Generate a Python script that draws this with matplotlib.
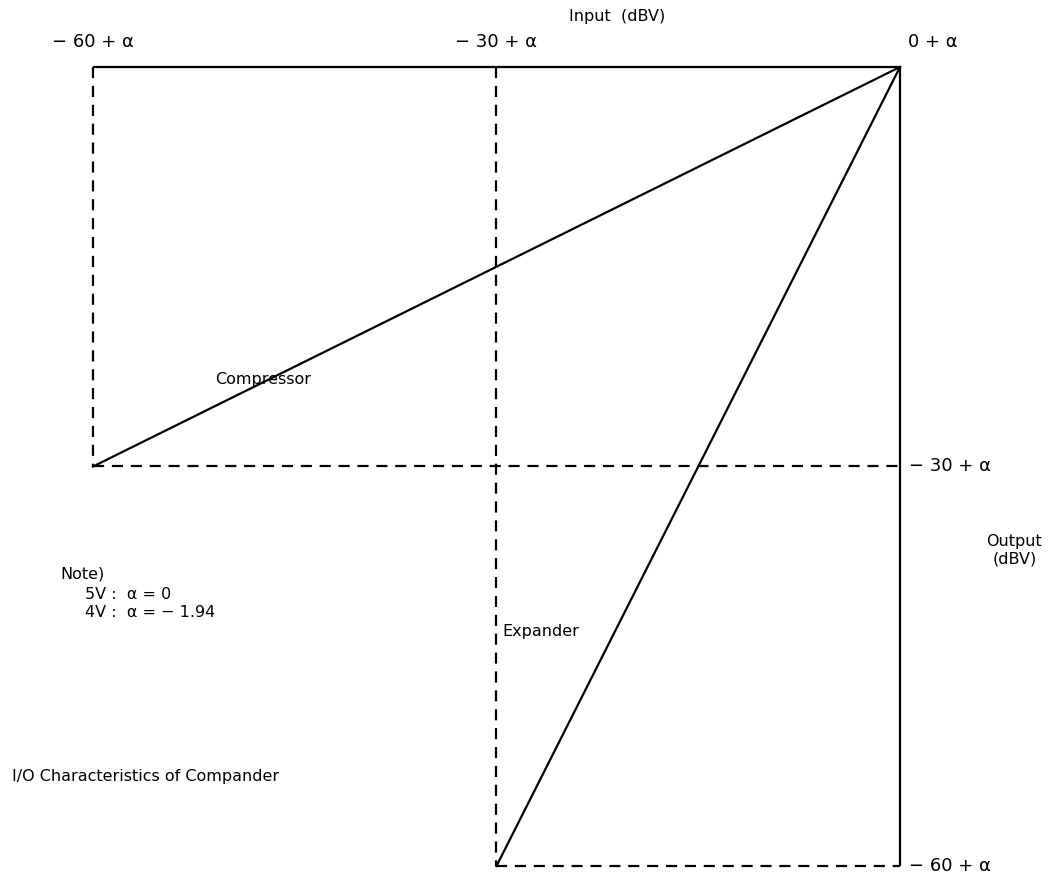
import numpy as np
import matplotlib
matplotlib.use("Agg")
import matplotlib.pyplot as plt

# ─── Data ─────────────────────────────────────────────────────────────────────
input_ticks   = [-60, -30, 0]
input_labels  = ["− 60 + α", "− 30 + α", "0 + α"]
output_ticks  = [-30, -60]
output_labels = ["− 30 + α", "− 60 + α"]

compressor_in  = [-60, 0]
compressor_out = [-30, 0]
expander_in    = [-30, 0]
expander_out   = [-60, 0]

note_lines = ["Note)", "5V :  α = 0", "4V :  α = − 1.94"]

# ─── Figure ───────────────────────────────────────────────────────────────────
W, H = 1054, 883
fig = plt.figure(figsize=(W / 100, H / 100), dpi=100)
ax = fig.add_axes([0, 0, 1, 1])
ax.set_axis_off()

# map dB values onto the page (pixel anchors of the box corners)
x0_px, x1_px = 93, 900
y0_px, y1_px = 67, 866
sx = (x1_px - x0_px) / 60.0
sy = (y1_px - y0_px) / 60.0
ax.set_xlim(-60 - x0_px / sx, (W - x0_px) / sx - 60)
ax.set_ylim(-60 - (H - y1_px) / sy, y0_px / sy)

lw = 1.6
dash = dict(color="black", lw=lw, linestyle=(0, (5, 3.5)))
solid = dict(color="black", lw=lw, solid_capstyle="butt")

# frame: solid top and right edges
ax.plot([input_ticks[0], input_ticks[-1]], [0, 0], **solid)
ax.plot([0, 0], [0, output_ticks[-1]], **solid)

# dashed guides
ax.plot([-60, -60], [0, -30], **dash)
ax.plot([-60, 0], [-30, -30], **dash)
ax.plot([-30, -30], [0, -60], **dash)
ax.plot([-30, 0], [-60, -60], **dash)

# characteristics
ax.plot(compressor_in, compressor_out, color="black", lw=lw)
ax.plot(expander_in, expander_out, color="black", lw=lw)

fs = 13
# input tick labels (top)
ax.text(input_ticks[0], 1.2, input_labels[0], ha="center", va="bottom", fontsize=fs)
ax.text(input_ticks[1], 1.2, input_labels[1], ha="center", va="bottom", fontsize=fs)
ax.text(input_ticks[2] + 0.6, 1.2, input_labels[2], ha="left", va="bottom", fontsize=fs)
ax.text(-21.0, 3.2, "Input  (dBV)", ha="center", va="bottom", fontsize=11.5)

# output tick labels (right)
for v, lab in zip(output_ticks, output_labels):
    ax.text(0.7, v, lab, ha="left", va="center", fontsize=fs)
ax.text(8.5, -36.3, "Output\n(dBV)", ha="center", va="center", fontsize=11.5,
        linespacing=1.2)

# curve labels
ax.text(-50.9, -23.5, "Compressor", ha="left", va="center", fontsize=11.5)
ax.text(-29.6, -42.4, "Expander", ha="left", va="center", fontsize=11.5)

# note
ax.text(-62.4, -38.1, note_lines[0], ha="left", va="center", fontsize=11.5)
ax.text(-60.6, -39.6, note_lines[1], ha="left", va="center", fontsize=11.5)
ax.text(-60.6, -41.0, note_lines[2], ha="left", va="center", fontsize=11.5)

# caption
ax.text(-66.0, -53.3, "I/O Characteristics of Compander", ha="left", va="center",
        fontsize=11.5)

fig.savefig("out.png", dpi=100, facecolor="white")
